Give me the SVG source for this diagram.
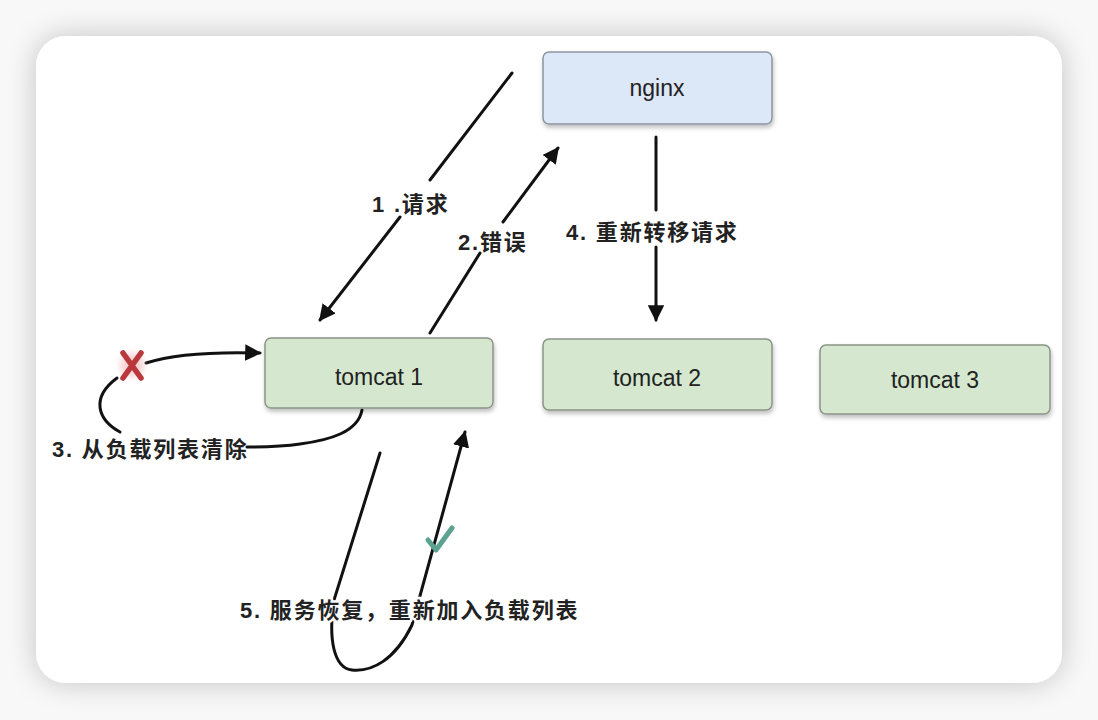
<svg xmlns="http://www.w3.org/2000/svg" width="1098" height="720" viewBox="0 0 1098 720">
<defs>
<filter id="cardShadow" x="-10%" y="-10%" width="120%" height="120%">
<feDropShadow dx="0" dy="0" stdDeviation="14" flood-color="#000" flood-opacity="0.22"/>
</filter>
<filter id="boxShadow" x="-10%" y="-20%" width="120%" height="150%">
<feDropShadow dx="1" dy="3" stdDeviation="2" flood-color="#000" flood-opacity="0.25"/>
</filter>
<filter id="glow" x="-50%" y="-50%" width="200%" height="200%">
<feGaussianBlur stdDeviation="3"/>
</filter>
<marker id="arrow" viewBox="0 0 10 10" refX="9" refY="5" markerWidth="5.5" markerHeight="5.5" orient="auto" markerUnits="strokeWidth">
<path d="M0,0 L10,5 L0,10 z" fill="#111"/>
</marker>
<style>
.box{stroke:#8a9488;stroke-width:1.5;filter:url(#boxShadow)}
.green{fill:#d5e8cf}
.blue{fill:#dce7f8;stroke:#8d95a3}
.ntext{font-family:"Liberation Sans",Arial,sans-serif;font-size:23px;fill:#222;text-anchor:middle}
.lbl{font-family:"Liberation Sans","Noto Sans CJK SC",sans-serif;font-size:22px;font-weight:bold;fill:#222;letter-spacing:1.8px}
.halo{stroke:#fff;stroke-width:5;paint-order:stroke;stroke-linejoin:round}
.conn{fill:none;stroke:#111;stroke-width:3;stroke-linecap:round}
</style>
</defs>
<rect width="1098" height="720" fill="#f8f8f8"/>
<rect x="36" y="36" width="1026" height="647" rx="30" fill="#fff" filter="url(#cardShadow)"/>

<g id="connectors">
<path class="conn" d="M512,73 L430,180"/>
<path class="conn" d="M400,217 L320,320" marker-end="url(#arrow)"/>
<path class="conn" d="M430,333 L480,253"/>
<path class="conn" d="M503,222 L558,148" marker-end="url(#arrow)"/>
<path class="conn" d="M656,137 L656,210"/>
<path class="conn" d="M656,247 L656,320" marker-end="url(#arrow)"/>
<path class="conn" d="M362,410 C358,432 330,440 300,444 C280,447 262,447 247,447"/>
<path class="conn" d="M120,432 C98,420 90,398 117,378"/>
<path class="conn" d="M146,363 C180,352 225,352 260,353" marker-end="url(#arrow)"/>
<path class="conn" d="M380,453 L334,600 C328,640 334,668 352,670 C372,672 395,660 412,625 L465,432" marker-end="url(#arrow)"/>
</g>

<g id="nginx">
<rect class="box blue" x="543" y="52" width="229" height="72" rx="6"/>
<text class="ntext" x="657" y="96">nginx</text>
</g>
<g id="tomcat1">
<rect class="box green" x="265" y="338" width="228" height="70" rx="6"/>
<text class="ntext" x="379" y="385">tomcat 1</text>
</g>
<g id="tomcat2">
<rect class="box green" x="543" y="339" width="229" height="71" rx="6"/>
<text class="ntext" x="657" y="386">tomcat 2</text>
</g>
<g id="tomcat3">
<rect class="box green" x="820" y="345" width="230" height="69" rx="6"/>
<text class="ntext" x="935" y="388">tomcat 3</text>
</g>

<g id="mark-x">
<circle cx="132" cy="365" r="12" fill="#f4b6b8" opacity="0.6" filter="url(#glow)"/>
<path d="M123,353 L141,378 M141,353 L123,378" stroke="#b8383c" stroke-width="5.5" stroke-linecap="round"/>
</g>
<g id="mark-check">
<path d="M428,540 L436,550 L452,528" fill="none" stroke="#5ba390" stroke-width="5" stroke-linecap="round" stroke-linejoin="round"/>
</g>

<g id="labels">
<text class="lbl" x="372" y="212">1  .请求</text>
<text class="lbl" x="458" y="250">2.错误</text>
<text class="lbl" x="566" y="240">4. 重新转移请求</text>
<text class="lbl" x="52" y="457">3. 从负载列表清除</text>
<text class="lbl halo" x="240" y="618">5. 服务恢复，重新加入负载列表</text>
</g>
</svg>
